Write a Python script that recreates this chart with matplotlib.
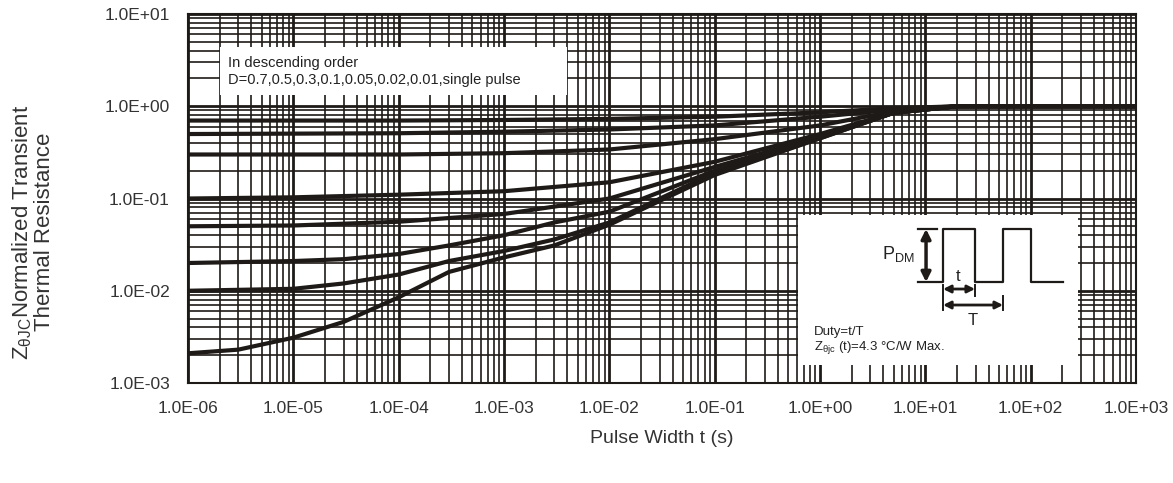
import matplotlib
matplotlib.use("Agg")
import matplotlib.pyplot as plt
from matplotlib.patches import Rectangle
import numpy as np

plt.rcParams['font.family'] = ['Liberation Sans', 'DejaVu Sans']

# pulse width (s) and normalized Zth readings for each duty cycle
t_d07 = [1e-6, 1e-4, 1e-3, 1e-2, 1e-1, 1, 5, 20, 1000]
z_d07 = [0.70, 0.70, 0.71, 0.73, 0.77, 0.86, 0.95, 1.0, 1.0]

t_d05 = [1e-6, 1e-4, 1e-3, 1e-2, 1e-1, 1, 5, 20, 1000]
z_d05 = [0.50, 0.51, 0.53, 0.56, 0.62, 0.77, 0.92, 1.0, 1.0]

t_d03 = [1e-6, 1e-4, 1e-3, 1e-2, 1e-1, 1, 5, 20, 1000]
z_d03 = [0.30, 0.30, 0.31, 0.34, 0.44, 0.62, 0.88, 1.0, 1.0]

t_d01 = [1e-6, 1e-5, 1e-4, 1e-3, 1e-2, 1e-1, 1, 5, 20, 1000]
z_d01 = [0.10, 0.103, 0.11, 0.12, 0.15, 0.25, 0.50, 0.85, 1.0, 1.0]

t_d005 = [1e-6, 1e-5, 1e-4, 1e-3, 1e-2, 1e-1, 1, 5, 20, 1000]
z_d005 = [0.050, 0.051, 0.056, 0.068, 0.10, 0.22, 0.47, 0.85, 1.0, 1.0]

t_d002 = [1e-6, 1e-5, 3e-5, 1e-4, 3e-4, 1e-3, 3e-3, 1e-2, 1e-1, 1, 5, 20, 1000]
z_d002 = [0.020, 0.021, 0.022, 0.025, 0.031, 0.040, 0.055, 0.072, 0.20, 0.46, 0.85, 1.0, 1.0]

t_d001 = [1e-6, 1e-5, 3e-5, 1e-4, 3e-4, 1e-3, 3e-3, 1e-2, 1e-1, 1, 5, 20, 1000]
z_d001 = [0.010, 0.0105, 0.012, 0.015, 0.021, 0.027, 0.036, 0.055, 0.19, 0.45, 0.85, 1.0, 1.0]

t_single = [1e-6, 3e-6, 1e-5, 3e-5, 1e-4, 3e-4, 1e-3, 3e-3, 1e-2, 1e-1, 1, 5, 20, 1000]
z_single = [0.0021, 0.0023, 0.0031, 0.0046, 0.0085, 0.016, 0.023, 0.031, 0.052, 0.18, 0.45, 0.85, 1.0, 1.0]

curves = [(t_d07, z_d07), (t_d05, z_d05), (t_d03, z_d03), (t_d01, z_d01),
          (t_d005, z_d005), (t_d002, z_d002), (t_d001, z_d001), (t_single, z_single)]

xticks = [1e-6, 1e-5, 1e-4, 1e-3, 1e-2, 1e-1, 1, 10, 100, 1000]
xticklabels = ['1.0E-06', '1.0E-05', '1.0E-04', '1.0E-03', '1.0E-02',
               '1.0E-01', '1.0E+00', '1.0E+01', '1.0E+02', '1.0E+03']
yticks = [1e-3, 1e-2, 1e-1, 1, 10]
yticklabels = ['1.0E-03', '1.0E-02', '1.0E-01', '1.0E+00', '1.0E+01']

ink = '#1e1a17'

fig = plt.figure(figsize=(11.73, 4.83), dpi=100)
ax = fig.add_axes([0.1603, 0.207, 0.8082, 0.764])
ax.set_xscale('log')
ax.set_yscale('log')
ax.set_xlim(1e-6, 1e3)
ax.set_ylim(1e-3, 10)

ax.grid(True, which='major', color=ink, lw=2.0)
ax.grid(True, which='minor', color=ink, lw=1.2)
ax.set_axisbelow(True)

for t, z in curves:
    ax.plot(t, z, color=ink, lw=3.0, solid_capstyle='round', zorder=3)

ax.set_xticks(xticks)
ax.set_xticklabels(xticklabels)
ax.set_yticks(yticks)
ax.set_yticklabels(yticklabels)
ax.tick_params(which='both', length=0)
ax.tick_params(axis='x', pad=13, labelsize=12.5, colors='#333333')
ax.tick_params(axis='y', pad=13, labelsize=12.5, colors='#333333')
for s in ax.spines.values():
    s.set_color(ink)
    s.set_linewidth(1.5)

ax.set_xlabel('Pulse Width t (s)', fontsize=14, color='#333333', labelpad=10)
fig.text(0.028, 0.52, 'Z$_{\\mathregular{\\theta JC}}$Normalized Transient\nThermal Resistance',
         rotation=90, ha='center', va='center', fontsize=16, color='#333333',
         linespacing=1.0)


# helper: position inside axes in pixel units of the original figure
def px(x, y):
    return ((x - 188) / 948.0, (383 - y) / 369.0)


# legend box
x0, y0 = px(220, 95)
x1, y1 = px(567, 47)
ax.add_patch(Rectangle((x0, y0), x1 - x0, y1 - y0, transform=ax.transAxes,
                       facecolor='white', edgecolor='none', zorder=4))
ax.text(*px(228, 63), 'In descending order', transform=ax.transAxes,
        fontsize=10.5, va='center', ha='left', color='#222222', zorder=5)
ax.text(*px(228, 80), 'D=0.7,0.5,0.3,0.1,0.05,0.02,0.01,single pulse',
        transform=ax.transAxes, fontsize=10.5, va='center', ha='left',
        color='#222222', zorder=5)

# inset with pulse schematic
x0, y0 = px(798, 365)
x1, y1 = px(1078, 215)
ax.add_patch(Rectangle((x0, y0), x1 - x0, y1 - y0, transform=ax.transAxes,
                       facecolor='white', edgecolor='none', zorder=4))
wave_x = [918, 943, 943, 975, 975, 1003, 1003, 1031, 1031, 1063]
wave_y = [282, 282, 229, 229, 282, 282, 229, 229, 282, 282]
pts = [px(a, b) for a, b in zip(wave_x, wave_y)]
ax.plot([p[0] for p in pts], [p[1] for p in pts], color=ink, lw=1.6,
        transform=ax.transAxes, zorder=5)
p, q = px(918, 229), px(937, 229)
ax.plot([p[0], q[0]], [p[1], q[1]], color=ink, lw=1.6, transform=ax.transAxes, zorder=5)
for xa, ya, yb in [(943, 285, 310), (975, 285, 296), (1003, 296, 310)]:
    p, q = px(xa, ya), px(xa, yb)
    ax.plot([p[0], q[0]], [p[1], q[1]], color=ink, lw=1.4, transform=ax.transAxes, zorder=5)

arrow = dict(arrowstyle='<|-|>', color=ink, lw=2.5, mutation_scale=14, shrinkA=0, shrinkB=0)
ax.annotate('', xy=px(926, 229), xytext=px(926, 282), xycoords='axes fraction',
            textcoords='axes fraction', arrowprops=arrow, zorder=6)
arrow2 = dict(arrowstyle='<|-|>', color=ink, lw=2.0, mutation_scale=11, shrinkA=0, shrinkB=0)
ax.annotate('', xy=px(943, 289), xytext=px(975, 289), xycoords='axes fraction',
            textcoords='axes fraction', arrowprops=arrow2, zorder=6)
ax.annotate('', xy=px(943, 305), xytext=px(1003, 305), xycoords='axes fraction',
            textcoords='axes fraction', arrowprops=arrow2, zorder=6)

ax.text(*px(898, 254), 'P$_{\\mathregular{DM}}$', transform=ax.transAxes, fontsize=13,
        ha='center', va='center', color='#222222', zorder=6)
ax.text(*px(958, 276), 't', transform=ax.transAxes, fontsize=12,
        ha='center', va='center', color='#222222', zorder=6)
ax.text(*px(973, 320), 'T', transform=ax.transAxes, fontsize=12,
        ha='center', va='center', color='#222222', zorder=6)
ax.text(*px(814, 332), 'Duty=t/T', transform=ax.transAxes, fontsize=9.5,
        ha='left', va='center', color='#222222', zorder=6)
ax.text(*px(814, 347), 'Z$_{\\mathregular{\\theta jc}}$ (t)=4.3 \u00b0C/W Max.', transform=ax.transAxes,
        fontsize=9.5, ha='left', va='center', color='#222222', zorder=6)

fig.savefig('out.png', dpi=100)
